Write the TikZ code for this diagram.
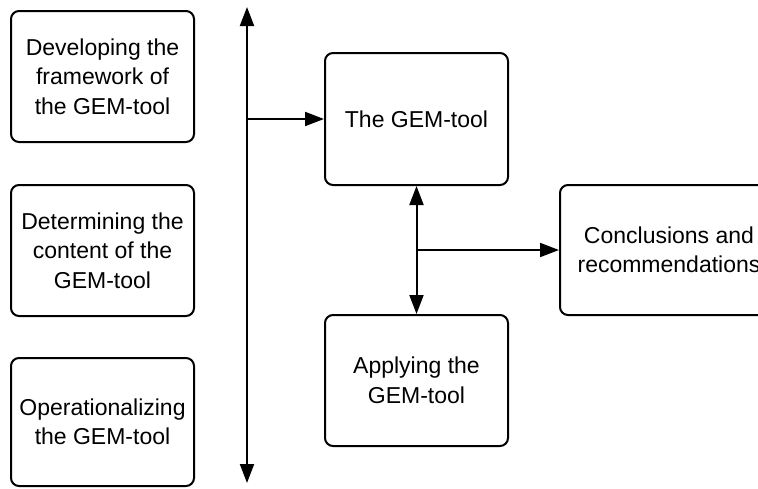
\documentclass[tikz,border=0pt]{standalone}
\usepackage{fontspec}
\setmainfont{Liberation Sans}
\usetikzlibrary{arrows.meta}
\begin{document}
\begin{tikzpicture}[x=1pt,y=-1pt,
  stage/.style={draw, line width=2pt, rounded corners=8pt, align=center,
    inner sep=0pt, font=\fontsize{23}{29.5}\selectfont},
  link/.style={line width=2pt, -{Triangle[length=19pt,width=14pt]}},
  dlink/.style={line width=2pt, {Triangle[length=19pt,width=14pt]}-{Triangle[length=19pt,width=14pt]}}]
  \useasboundingbox[fill=white] (0,0) rectangle (758,488);

  % development phases on the left
  \node[stage, minimum width=183pt, minimum height=131pt] (dev) at (102.5,76.5)
    {Developing the\\framework of\\the GEM-tool};
  \node[stage, minimum width=183pt, minimum height=131pt] (det) at (102.5,250.5)
    {Determining the\\content of the\\GEM-tool};
  \node[stage, minimum width=183pt, minimum height=128pt] (ops) at (102.5,422)
    {Operationalizing\\the GEM-tool};

  % results on the right
  \node[stage, minimum width=183pt, minimum height=132pt] (gem) at (416.5,119)
    {The GEM-tool};
  \node[stage, minimum width=183pt, minimum height=131pt] (app) at (416.5,380.5)
    {Applying the\\GEM-tool};
  \node[stage, minimum width=218pt, minimum height=130pt] (con) at (669,250)
    {Conclusions and\\recommendations};

  % process axis
  \coordinate (axtop) at (247,7);
  \coordinate (axbot) at (247,483);
  \draw[dlink] (axbot) -- (axtop);
  \draw[link] (gem.west -| axtop) -- (gem.west);

  % tool <-> application, feeding the conclusions
  \draw[dlink] (gem.south) -- (app.north);
  \draw[link] (gem.south |- con.west) -- (con.west);
\end{tikzpicture}
\end{document}
